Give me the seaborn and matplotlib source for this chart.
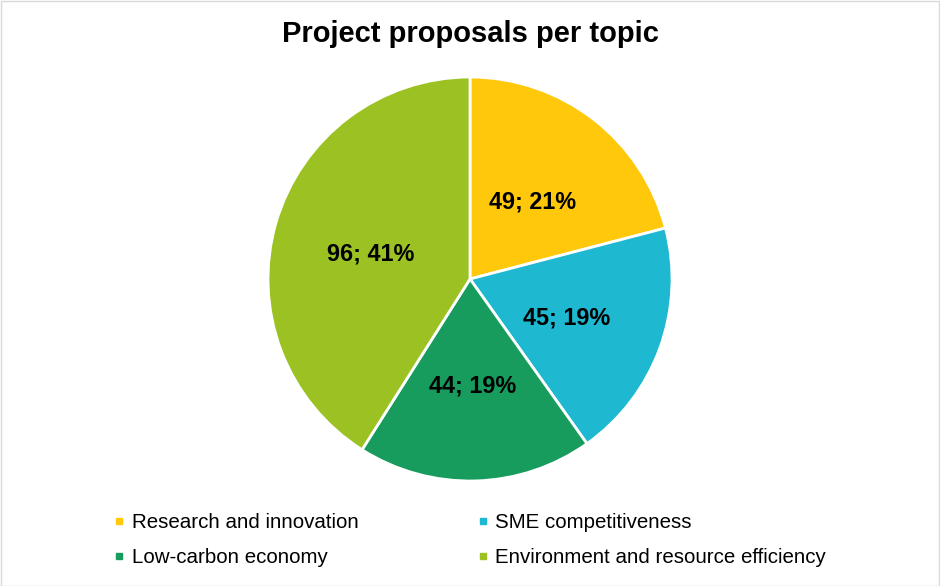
import matplotlib
matplotlib.use("Agg")
import matplotlib.pyplot as plt
import seaborn as sns
from matplotlib.lines import Line2D
from matplotlib.patches import Rectangle

categories = ["Research and innovation", "SME competitiveness",
              "Low-carbon economy", "Environment and resource efficiency"]
values = [49, 45, 44, 96]
colors = ["#FFC80A", "#1EB8D0", "#179C5E", "#9BC222"]
title = "Project proposals per topic"

sns.set_theme(style="white")
plt.rcParams["font.family"] = ["Liberation Sans", "DejaVu Sans"]
plt.rcParams["text.color"] = "black"

W, H = 940, 586
fig = plt.figure(figsize=(W / 100, H / 100), dpi=100)
cx, cy, r = 470, 279, 202
ax = fig.add_axes([(cx - r) / W, (H - cy - r) / H, 2 * r / W, 2 * r / H])

total = sum(values)
def fmt(p):
    return f"{round(p * total / 100)}; {p:.0f}%"

wedges, texts, autotexts = ax.pie(
    values, colors=colors, startangle=90, counterclock=False,
    autopct=fmt, pctdistance=0.51,
    wedgeprops=dict(edgecolor="white", linewidth=2),
    textprops=dict(fontsize=16.8, fontweight="bold", color="black"))
for t in autotexts:
    x, y = t.get_position()
    t.set_position((x, y - 0.02))
ax.set_aspect("equal")
ax.set_xlim(-1, 1)
ax.set_ylim(-1, 1)
ax.axis("off")

fig.text(0.5, 1 - 34 / H, title, ha="center", va="center",
         fontsize=21, fontweight="bold", color="black")

handles = [Line2D([], [], marker="s", linestyle="none", markersize=5,
                  markerfacecolor=c, markeredgecolor=c) for c in colors]
order = [0, 2, 1, 3]
leg = fig.legend([handles[i] for i in order], [categories[i] for i in order],
                 ncol=2, loc="center", bbox_to_anchor=(0.5, 1 - 540 / H),
                 frameon=False, fontsize=14.8, handlelength=0.5,
                 handletextpad=0.35, columnspacing=5.8, labelspacing=0.78)
for t in leg.get_texts():
    t.set_color("black")

fig.patches.append(Rectangle((0.5 / W, 0.5 / H), 1 - 1.5 / W, 1 - 1.5 / H,
                             transform=fig.transFigure, fill=False,
                             edgecolor="#D9D9D9", linewidth=1))

fig.savefig("out.png", dpi=100, facecolor="white")
